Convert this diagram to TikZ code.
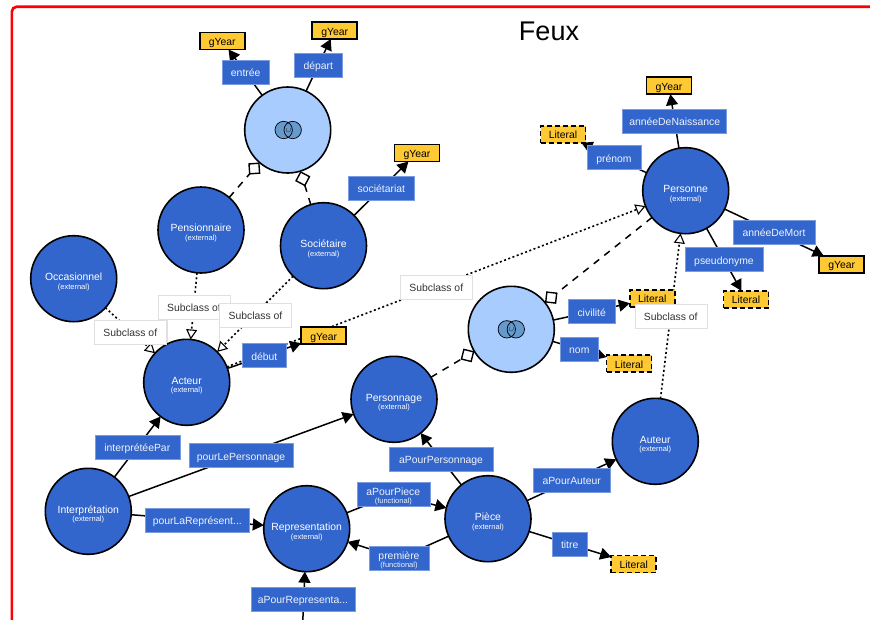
\documentclass[tikz,border=0pt]{standalone}
\usepackage{fontspec}
\setmainfont{Liberation Sans}
\usetikzlibrary{arrows.meta}
\pgfdeclarelayer{under}
\pgfdeclarelayer{edges}
\pgfsetlayers{under,edges,main}
\definecolor{cblue}{HTML}{3366CC}
\definecolor{clight}{HTML}{A9CCFF}
\definecolor{cyell}{HTML}{FFC933}
\definecolor{cedge}{HTML}{7A9BE0}
\definecolor{cicon}{HTML}{6699CC}
\newcommand{\ctr}[2]{\makebox[0pt][c]{\raisebox{#1}[0pt][0pt]{#2}}}
\newcommand{\tx}[1]{\ctr{-4.5pt}{#1}}
\newcommand{\cl}[1]{\ctr{-1.8pt}{#1}\ctr{-10.4pt}{\fontsize{7.5}{8}\selectfont (external)}}
\newcommand{\fn}[1]{\ctr{-1.6pt}{#1}\ctr{-9.6pt}{\fontsize{7.5}{8}\selectfont (functional)}}
\tikzset{
  base/.style={inner sep=0pt,outer sep=0pt,font=\fontsize{10.4}{10}\selectfont,align=center},
  cls/.style={base,circle,draw=black,fill=cblue,line width=1.6pt,minimum size=86pt,text=white},
  ucls/.style={base,circle,draw=black,fill=clight,line width=1.6pt,minimum size=86pt},
  prop/.style={base,rectangle,draw=cedge,line width=0.5pt,fill=cblue,text=white!92!cblue,minimum height=24pt},
  lit/.style={base,rectangle,draw=black,fill=cyell,line width=1.6pt,minimum width=45pt,minimum height=17pt,text=black},
  dlit/.style={lit,dash pattern=on 5pt off 3pt},
  sub/.style={base,rectangle,draw=black!12,line width=0.4pt,fill=white,minimum width=72pt,minimum height=24pt,text=black!80},
  solidarr/.style={line width=1.5pt,-{Triangle[length=11pt,width=12pt]}},
  subarr/.style={line width=1.6pt,dash pattern=on 2pt off 2.5pt,-{Triangle[open,fill=white,length=10pt,width=11pt,line width=1.1pt]}},
  eqarr/.style={line width=1.5pt,dash pattern=on 7pt off 6.5pt,-{Diamond[open,fill=white,length=16pt,width=16pt,line width=1.4pt]}},
}
\newcommand{\unionicon}[1]{%
  \begin{scope}[shift={(#1)}]
    \fill[cicon] (-4.5,0) circle (8.7) (4.5,0) circle (8.7);
    \draw[line width=0.7pt] (-4.5,0) circle (8.7) (4.5,0) circle (8.7);
    \node[inner sep=0pt,font=\scriptsize] at (0,0.3) {$\cup$};
  \end{scope}}
\begin{document}
\begin{tikzpicture}[x=1pt,y=-1pt]
\useasboundingbox (0,0) rectangle (870,619);
\clip (0,0) rectangle (870,619);
\draw[red,line width=2.6pt,rounded corners=5pt] (11.8,6.7) rectangle (900,660);
\node[base,font=\fontsize{27}{30}\selectfont] (title) at (549,31.5) {Feux};

% classes
\node[ucls] (u1) at (287.7,130) {};
\node[cls] (pens) at (201,230) {\cl{Pensionnaire}};
\node[cls] (soc) at (323.5,245.7) {\cl{Sociétaire}};
\node[cls] (occ) at (73.7,278.7) {\cl{Occasionnel}};
\node[cls] (act) at (186.7,382.3) {\cl{Acteur}};
\node[cls] (inter) at (88.3,511.3) {\cl{Interprétation}};
\node[cls] (rep) at (306.7,528.7) {\cl{Representation}};
\node[cls] (pers) at (394,399.3) {\cl{Personnage}};
\node[ucls] (u2) at (511.3,329.3) {};
\node[cls] (aut) at (655.3,441.3) {\cl{Auteur}};
\node[cls] (piece) at (488,518.7) {\cl{Pièce}};
\node[cls] (perso) at (685.7,190.7) {\cl{Personne}};
\unionicon{288.2,130}
\unionicon{511.3,329.3}

% literals
\node[lit] (y1) at (222.3,41) {\tx{gYear}};
\node[lit] (y2) at (334.7,30.5) {\tx{gYear}};
\node[lit] (y3) at (417,153) {\tx{gYear}};
\node[lit] (y4) at (323.7,335.5) {\tx{gYear}};
\node[lit] (y5) at (669,85.7) {\tx{gYear}};
\node[lit] (y6) at (841.7,264.3) {\tx{gYear}};
\node[dlit] (l1) at (563,134.3) {\tx{Literal}};
\node[dlit] (l2) at (746,299.3) {\tx{Literal}};
\node[dlit] (l3) at (652.3,298.3) {\tx{Literal}};
\node[dlit] (l4) at (629,363.7) {\tx{Literal}};
\node[dlit] (l5) at (633.7,564) {\tx{Literal}};

\coordinate (below) at (302,640);

% property labels
\node[prop,minimum width=47.7pt] (p1) at (245.7,72.3) {\tx{entrée}};
\node[prop,minimum width=47.7pt] (p2) at (318.3,65) {\tx{départ}};
\node[prop,minimum width=66pt] (p3) at (381.3,188.3) {\tx{sociétariat}};
\node[prop,minimum width=104pt] (p4) at (674.7,121) {\tx{annéeDeNaissance}};
\node[prop,minimum width=54pt] (p5) at (614,157.7) {\tx{prénom}};
\node[prop,minimum width=82pt] (p6) at (774,232.3) {\tx{annéeDeMort}};
\node[prop,minimum width=78pt] (p7) at (724,259.7) {\tx{pseudonyme}};
\node[prop,minimum width=47pt] (p8) at (591.7,311.7) {\tx{civilité}};
\node[prop,minimum width=38pt] (p9) at (579.3,349.3) {\tx{nom}};
\node[prop,minimum width=77pt] (p10) at (571.7,480) {\tx{aPourAuteur}};
\node[prop,minimum width=35pt] (p11) at (569.7,544) {\tx{titre}};
\node[prop,minimum width=104pt] (p12) at (441,459) {\tx{aPourPersonnage}};
\node[prop,minimum width=73pt] (p13) at (393.3,494.3) {\fn{aPourPiece}};
\node[prop,minimum width=60pt] (p14) at (399,558.3) {\fn{première}};
\node[prop,minimum width=44pt] (p15) at (264.3,355.7) {\tx{début}};
\node[prop,minimum width=85pt] (p16) at (137.3,447) {\tx{interprétéePar}};
\node[prop,minimum width=104pt] (p17) at (241,455.7) {\tx{pourLePersonnage}};
\node[prop,minimum width=104pt] (p18) at (197.3,520.3) {\tx{pourLaReprésent...}};
\node[prop,minimum width=104pt] (p19) at (303,599.3) {\tx{aPourRepresenta...}};

% subclass labels
\node[sub] (s1) at (194,306.7) {\tx{Subclass of}};
\node[sub] (s2) at (255.5,314.7) {\tx{Subclass of}};
\node[sub] (s3) at (130.3,331.7) {\tx{Subclass of}};
\node[sub] (s4) at (436.3,287) {\tx{Subclass of}};
\node[sub] (s5) at (670.7,316.3) {\tx{Subclass of}};

\begin{pgfonlayer}{under}
  \draw[draw=black!12,line width=0.4pt,fill=white] (166.7,345) -- (166.7,319) -- (219.5,319) -- (219.5,345);
\end{pgfonlayer}

\begin{pgfonlayer}{edges}
  \draw[solidarr] (u1) -- (y1);
  \draw[solidarr] (u1) -- (y2);
  \draw[solidarr] (soc) -- (y3);
  \draw[solidarr] (perso) -- (y5);
  \draw[solidarr] (perso) -- (l1);
  \draw[solidarr] (perso) -- (y6);
  \draw[solidarr] (perso) -- (l2);
  \draw[solidarr] (u2) -- (l3);
  \draw[solidarr] (u2) -- (l4);
  \draw[solidarr] (piece) -- (aut);
  \draw[solidarr] (piece) -- (l5);
  \draw[solidarr] (piece) -- (pers);
  \draw[solidarr] (rep) -- (p13.center) -- (piece);
  \draw[solidarr] (piece) -- (p14.center) -- (rep);
  \draw[solidarr] (act) -- (y4);
  \draw[solidarr] (inter) -- (act);
  \draw[solidarr] (inter) -- (pers);
  \draw[solidarr] (inter) -- (rep);
  \draw[solidarr] (below) -- (rep);
  \draw[eqarr] (pens) -- (u1);
  \draw[eqarr] (soc) -- (u1);
  \draw[eqarr] (pers) -- (u2);
  \draw[eqarr] (perso) -- (u2);
  \draw[subarr] (occ) -- (act);
  \draw[subarr] (pens) -- (act);
  \draw[subarr] (soc) -- (act);
  \draw[subarr] (act) -- (perso);
  \draw[subarr] (aut) -- (perso);
\end{pgfonlayer}
\end{tikzpicture}
\end{document}
